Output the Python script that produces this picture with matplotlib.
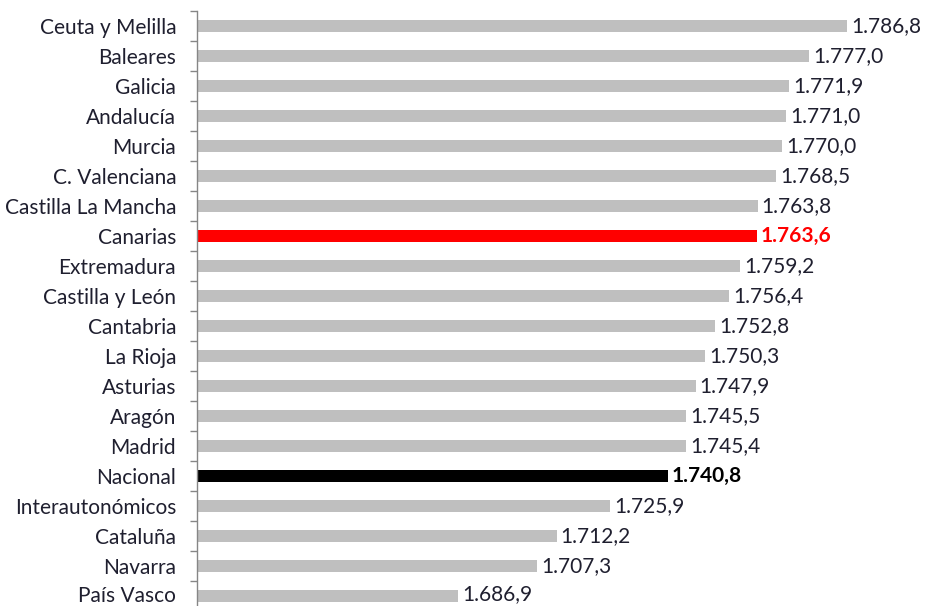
import matplotlib
matplotlib.use("Agg")
import matplotlib.pyplot as plt
import matplotlib.transforms as mtransforms
import numpy as np

regions = ["Ceuta y Melilla", "Baleares", "Galicia", "Andalucía", "Murcia",
           "C. Valenciana", "Castilla La Mancha", "Canarias", "Extremadura",
           "Castilla y León", "Cantabria", "La Rioja", "Asturias", "Aragón",
           "Madrid", "Nacional", "Interautonómicos", "Cataluña", "Navarra",
           "País Vasco"]
values = [1786.8, 1777.0, 1771.9, 1771.0, 1770.0, 1768.5, 1763.8, 1763.6,
          1759.2, 1756.4, 1752.8, 1750.3, 1747.9, 1745.5, 1745.4, 1740.8,
          1725.9, 1712.2, 1707.3, 1686.9]

x_min, x_max = 1620, 1807.2

def fmt(v):
    s = f"{v:,.1f}"
    return s.replace(",", "X").replace(".", ",").replace("X", ".")

plt.rcParams['font.family'] = ['Lato', 'DejaVu Sans']

fig = plt.figure(figsize=(9.27, 6.06), dpi=100)
W, H = 927, 606
ax = fig.add_axes([197 / W, -5 / H, (W - 197) / W, 600 / H])

n = len(regions)
ypos = np.arange(n)
colors = []
for r in regions:
    if r == "Canarias":
        colors.append("#FF0000")
    elif r == "Nacional":
        colors.append("#000000")
    else:
        colors.append("#BFBFBF")

ax.barh(ypos, [v - x_min for v in values], left=x_min, height=0.4,
        color=colors, edgecolor="none")

FS = 15
for y, v, r in zip(ypos, values, regions):
    kw = dict(color="#1F1F2F", fontsize=FS)
    if r == "Canarias":
        kw = dict(color="#FF0000", fontsize=FS, fontweight="bold")
    elif r == "Nacional":
        kw = dict(color="#000000", fontsize=FS, fontweight="bold")
    dy = 2 if y == n - 1 else 0
    ax.annotate(fmt(v), xy=(v, y), xytext=(4, dy), textcoords="offset pixels",
                va="center", ha="left", **kw)

ax.set_xlim(x_min, x_max)
ax.set_ylim(n - 0.5, -0.5)
ax.set_yticks(ypos)
ax.set_yticklabels(regions, fontsize=FS, color="#1F1F2F")
ax.tick_params(axis="y", which="major", length=0, pad=15)
ax.set_yticks(np.arange(-0.5, n, 1), minor=True)
ax.tick_params(axis="y", which="minor", length=5, width=1, color="#868686")
ax.set_xticks([])
for s in ["top", "right", "bottom"]:
    ax.spines[s].set_visible(False)
ax.spines["left"].set_color("#868686")
ax.spines["left"].set_linewidth(1)

# nudge the bottom label slightly up so it stays inside the canvas
last = ax.get_yticklabels()[-1]
last.set_transform(last.get_transform() +
                   mtransforms.ScaledTranslation(0, 2.5 / 100, fig.dpi_scale_trans))

fig.savefig("out.png", dpi=100)
